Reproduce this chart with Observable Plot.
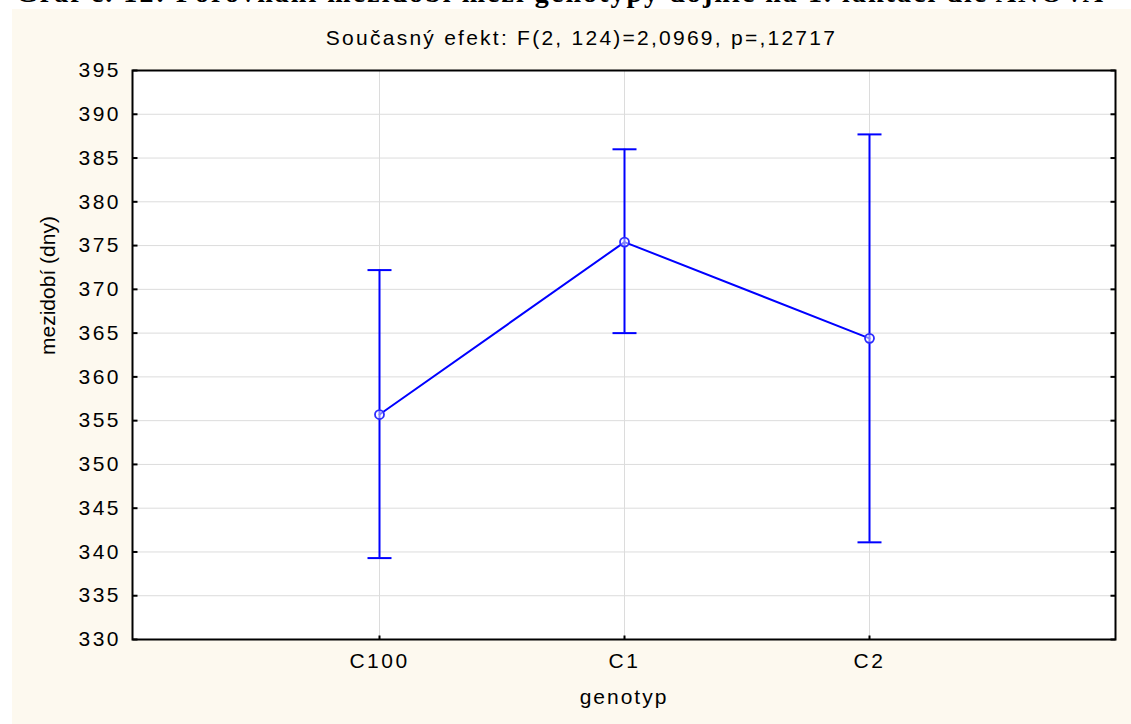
<!DOCTYPE html>
<html>
<head>
<meta charset="utf-8">
<script src="https://cdn.jsdelivr.net/npm/d3@7"></script>
<script src="https://cdn.jsdelivr.net/npm/@observablehq/plot@0.6"></script>
<style>
  html, body { margin: 0; padding: 0; background: #ffffff; width: 1131px; height: 724px; overflow: hidden; }
  #topclip { position: absolute; left: 0; top: 0; width: 1131px; height: 9px; overflow: hidden; }
  #toptitle { position: absolute; left: 16px; top: -22px; line-height: 30px; white-space: nowrap;
    font-family: "Liberation Serif", "Times New Roman", serif; font-weight: bold; font-size: 28px; letter-spacing: 2.05px; color: #000; }
  #panel { position: absolute; left: 12px; top: 9px; width: 1119px; height: 715px; background: #fdf9ef; }
  #subtitle { position: absolute; left: 302px; top: 17px; width: 535px; text-align: center; white-space: nowrap;
    font-family: "Liberation Sans", Arial, sans-serif; font-size: 21px; letter-spacing: 2.25px; color: #000; line-height: 24px; }
  #chart { position: absolute; left: 0; top: 0; }
  #chart svg [aria-label="y-axis tick label"] text,
  #chart svg [aria-label="x-axis tick label"] text { letter-spacing: 2.5px; }
  #chart svg .xlab text { letter-spacing: 2px; }
</style>
</head>
<body>
<div id="topclip"><div id="toptitle">Graf č. 12: Porovnání mezidobí mezi genotypy dojnic na 1. laktaci dle ANOVA</div></div>
<div id="panel">
  <div id="chart"></div>
  <div id="subtitle">Současný efekt: F(2, 124)=2,0969, p=,12717</div>
</div>
<script>
const categories = ["C100", "C1", "C2"];
const means = [355.7, 375.4, 364.4];
const lower = [339.3, 365.0, 341.1];
const upper = [372.2, 386.0, 387.7];
const yTicks = [330, 335, 340, 345, 350, 355, 360, 365, 370, 375, 380, 385, 390, 395];
const xTitle = "genotyp";
const yTitle = "mezidobí (dny)";

const data = categories.map((g, i) => ({g, mean: means[i], lo: lower[i], hi: upper[i]}));

const W = 1119, H = 715;
const mL = 120, mR = 16, mT = 61, mB = 85;
const blue = "#0000ff";
const grid = "#dcdcdc";

// custom symbols (fixed-length strokes)
const capSymbol = {draw(ctx) { ctx.moveTo(-12, 0); ctx.lineTo(12, 0); }};
const tickInRight = {draw(ctx) { ctx.moveTo(0, 0); ctx.lineTo(5, 0); }};
const tickInLeft = {draw(ctx) { ctx.moveTo(0, 0); ctx.lineTo(-5, 0); }};
const tickUp = {draw(ctx) { ctx.moveTo(0, 0); ctx.lineTo(0, -4); }};

const chart = Plot.plot({
  width: W,
  height: H,
  marginLeft: mL,
  marginRight: mR,
  marginTop: mT,
  marginBottom: mB,
  style: {background: "transparent", fontFamily: "'Liberation Sans', Arial, sans-serif", fontSize: "21px", color: "#000"},
  x: {type: "point", domain: categories, padding: 1},
  y: {domain: [330, 395], ticks: yTicks},
  marks: [
    Plot.frame({fill: "white"}),
    Plot.ruleY(yTicks, {stroke: grid, strokeWidth: 1}),
    Plot.ruleX(categories, {stroke: grid, strokeWidth: 1}),
    Plot.ruleX(data, {x: "g", y1: "lo", y2: "hi", stroke: blue, strokeWidth: 2}),
    Plot.dot(data, {x: "g", y: "hi", symbol: capSymbol, stroke: blue, strokeWidth: 2, fill: "none"}),
    Plot.dot(data, {x: "g", y: "lo", symbol: capSymbol, stroke: blue, strokeWidth: 2, fill: "none"}),
    Plot.line(data, {x: "g", y: "mean", stroke: blue, strokeWidth: 2}),
    Plot.dot(data, {x: "g", y: "mean", r: 4.5, stroke: "#2a2aff", strokeWidth: 1.8, fill: "white", fillOpacity: 0.5}),
    Plot.frame({stroke: "#000", strokeWidth: 2}),
    Plot.dot(yTicks, {y: d => d, frameAnchor: "left", symbol: tickInRight, stroke: "#000", strokeWidth: 2, fill: "none"}),
    Plot.dot(yTicks, {y: d => d, frameAnchor: "right", symbol: tickInLeft, stroke: "#000", strokeWidth: 2, fill: "none"}),
    Plot.dot(categories, {x: d => d, frameAnchor: "bottom", symbol: tickUp, stroke: "#000", strokeWidth: 2, fill: "none"}),
    Plot.axisY({ticks: yTicks, tickSize: 0, tickPadding: 11.5, label: null, fontSize: 21}),
    Plot.axisX({tickSize: 0, tickPadding: 14, label: null, fontSize: 21}),
    Plot.text([xTitle], {frameAnchor: "bottom", dy: 64, fontSize: 21, fill: "#000", className: "xlab"}),
    Plot.text([yTitle], {frameAnchor: "left", rotate: -90, dx: -84, fontSize: 21, fill: "#000"})
  ]
});
document.getElementById("chart").appendChild(chart);
</script>
</body>
</html>
